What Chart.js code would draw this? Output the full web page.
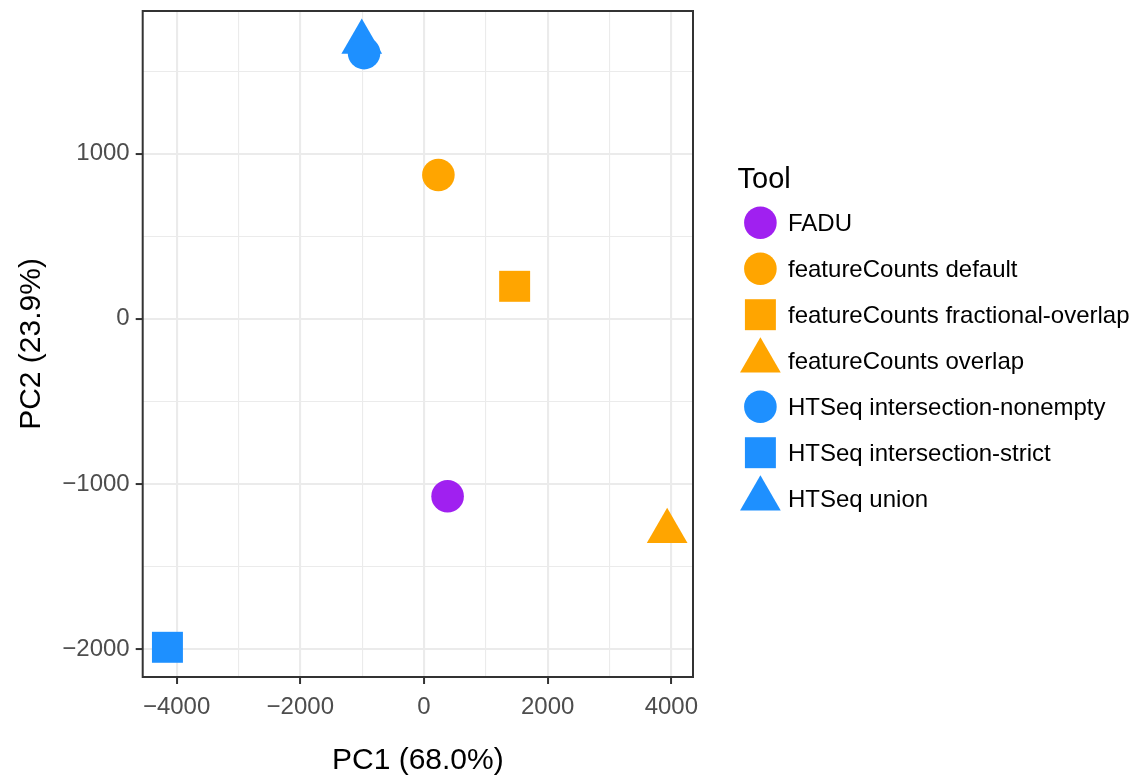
<!DOCTYPE html>
<html>
<head>
<meta charset="utf-8">
<title>PCA by counting tool</title>
<script src="https://cdn.jsdelivr.net/npm/chart.js@4/dist/chart.umd.min.js"></script>
<style>
  html, body { margin: 0; padding: 0; background: #ffffff; }
  #wrap { position: relative; width: 1133px; height: 776px; }
</style>
</head>
<body>
<div id="wrap"><canvas id="pca" width="1133" height="776"></canvas></div>
<script>
// Samples: one point per counting tool / mode
const tools = [
  'FADU',
  'featureCounts default',
  'featureCounts fractional-overlap',
  'featureCounts overlap',
  'HTSeq intersection-nonempty',
  'HTSeq intersection-strict',
  'HTSeq union'
];
const pc1 = [382, 233, 1466, 3932, -969, -4148, -1006];
const pc2 = [-1075, 871, 197, -1287, 1610, -1990, 1677];
const toolColours = ['#A020F0', '#FFA500', '#FFA500', '#FFA500', '#1E90FF', '#1E90FF', '#1E90FF'];
const toolShapes = ['circle', 'circle', 'rect', 'triangle', 'circle', 'rect', 'triangle'];

// Axis ticks (labelled) and minor grid positions
const xMajorTicks = [-4000, -2000, 0, 2000, 4000];
const xMinorTicks = [-3000, -1000, 1000, 3000];
const yMajorTicks = [-2000, -1000, 0, 1000];
const yMinorTicks = [-1500, -500, 500, 1500];
const xLimits = [-4548, 4350];
const yLimits = [-2170, 1865];

const xTitle = 'PC1 (68.0%)';
const yTitle = 'PC2 (23.9%)';
const legendTitle = 'Tool';

// Marker radius per shape so the shapes read with equal visual weight
const shapeRadius = { circle: 16.3, rect: 21.9, triangle: 23.5 };

const FONT = '"Liberation Sans", Arial, Helvetica, sans-serif';
Chart.defaults.font.family = FONT;

const datasets = tools.map((name, i) => ({
  label: name,
  data: [{ x: pc1[i], y: pc2[i] }],
  backgroundColor: toolColours[i],
  borderWidth: 0,
  pointStyle: toolShapes[i],
  pointRadius: shapeRadius[toolShapes[i]],
  pointHoverRadius: shapeRadius[toolShapes[i]],
  clip: false
}));

const fmt = v => (v < 0 ? '\u2212' + Math.abs(v) : String(v));
const allTicks = (major, minor) => major.concat(minor).sort((a, b) => a - b).map(v => ({ value: v }));
const isMajor = (list, c) => c.tick && list.includes(c.tick.value);

function axis(major, minor, limits, titleText, titleFont, titlePadding, tickPadding, size) {
  return {
    type: 'linear',
    min: limits[0],
    max: limits[1],
    afterBuildTicks: s => { s.ticks = allTicks(major, minor); },
    afterFit: s => {
      // fixed axis band; no extra room reserved for edge labels
      if (s.isHorizontal()) { s.height = size; } else { s.width = size; }
      s.paddingTop = 0; s.paddingBottom = 0; s.paddingLeft = 0; s.paddingRight = 0;
    },
    border: { display: false },
    grid: {
      color: '#ebebeb',
      lineWidth: c => (isMajor(major, c) ? 2.1 : 1.1),
      drawTicks: true,
      tickLength: 7,
      tickWidth: 2,
      tickColor: c => (isMajor(major, c) ? '#333333' : 'rgba(0,0,0,0)')
    },
    ticks: {
      autoSkip: false,
      maxRotation: 0,
      padding: tickPadding,
      color: '#4d4d4d',
      font: { size: 24 },
      callback: v => (major.includes(v) ? fmt(v) : '')
    },
    title: {
      display: true,
      text: titleText,
      color: '#000000',
      font: titleFont,
      padding: titlePadding
    }
  };
}

// Panel frame drawn over the data, as in a bordered panel
const panelFrame = {
  id: 'panelFrame',
  afterDatasetsDraw(chart) {
    const { ctx, chartArea: a } = chart;
    ctx.save();
    ctx.strokeStyle = '#333333';
    ctx.lineWidth = 2;
    ctx.strokeRect(a.left, a.top, a.right - a.left, a.bottom - a.top);
    ctx.restore();
  }
};

// Key listing each tool with its marker
const toolKey = {
  id: 'toolKey',
  afterDraw(chart) {
    const ctx = chart.ctx;
    ctx.save();
    ctx.textAlign = 'left';
    ctx.textBaseline = 'alphabetic';
    ctx.fillStyle = '#000000';
    ctx.font = '29px ' + FONT;
    ctx.fillText(legendTitle, 737.5, 187.7);
    ctx.font = '24px ' + FONT;
    chart.data.datasets.forEach((ds, i) => {
      const cy = 222.7 + 46 * i;
      ctx.fillStyle = ds.backgroundColor;
      Chart.helpers.drawPoint(ctx, {
        pointStyle: ds.pointStyle,
        radius: ds.pointRadius,
        rotation: 0,
        borderWidth: 0
      }, 760.4, cy);
      ctx.fillStyle = '#000000';
      ctx.fillText(ds.label, 788, cy + 8.6);
    });
    ctx.restore();
  }
};

new Chart(document.getElementById('pca'), {
  type: 'scatter',
  data: { datasets },
  options: {
    responsive: false,
    animation: false,
    devicePixelRatio: 1,
    layout: { autoPadding: false, padding: { left: 0, top: 11, right: 440, bottom: 0 } },
    plugins: {
      legend: { display: false },
      tooltip: { enabled: false }
    },
    scales: {
      x: axis(xMajorTicks, xMinorTicks, xLimits, xTitle, { size: 30, lineHeight: 1.0 }, { top: 0, bottom: 0 }, 8.5, 99),
      y: axis(yMajorTicks, yMinorTicks, yLimits, yTitle, { size: 30 }, { top: 14, bottom: 0 }, 6, 142.7)
    }
  },
  plugins: [panelFrame, toolKey]
});
</script>
</body>
</html>
